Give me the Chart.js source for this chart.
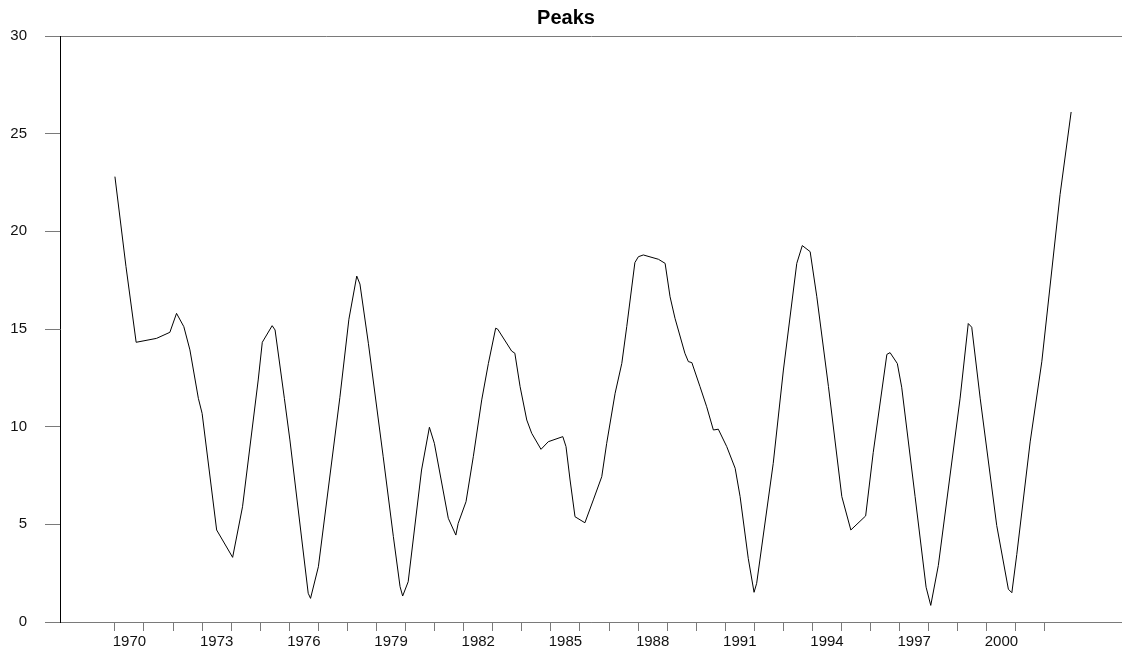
<!DOCTYPE html>
<html>
<head>
<meta charset="utf-8">
<title>Peaks</title>
<script src="https://cdn.jsdelivr.net/npm/chart.js@4"></script>
<style>
  html, body { margin: 0; padding: 0; background: #fff; }
  #wrap { width: 1122px; height: 655px; position: relative; }
</style>
</head>
<body>
<div id="wrap"><canvas id="chart"></canvas></div>
<script>
// decimal years of each vertex of the series
const years = [
  1970.00, 1970.38, 1970.73, 1971.43, 1971.89, 1972.12, 1972.37, 1972.58, 1972.87, 1973.00,
  1973.50, 1974.05, 1974.39, 1974.93, 1975.07, 1975.41, 1975.51, 1975.83, 1976.02, 1976.65,
  1976.73, 1977.00, 1977.74, 1978.05, 1978.32, 1978.43, 1978.72, 1979.23, 1979.58, 1979.81,
  1979.90, 1980.09, 1980.55, 1980.82, 1980.99, 1981.47, 1981.73, 1981.81, 1982.08, 1982.33,
  1982.62, 1982.85, 1983.10, 1983.17, 1983.65, 1983.76, 1983.94, 1984.17, 1984.34, 1984.66,
  1984.91, 1985.41, 1985.52, 1985.66, 1985.83, 1986.17, 1986.46, 1986.75, 1986.92, 1987.21,
  1987.44, 1987.61, 1987.89, 1988.01, 1988.18, 1988.70, 1988.93, 1989.10, 1989.27, 1989.61,
  1989.73, 1989.85, 1990.13, 1990.36, 1990.59, 1990.76, 1991.05, 1991.34, 1991.51, 1991.79,
  1991.99, 1992.08, 1992.65, 1993.00, 1993.46, 1993.65, 1993.92, 1994.15, 1994.55, 1995.01,
  1995.32, 1995.83, 1996.09, 1996.56, 1996.67, 1996.92, 1997.07, 1997.53, 1997.91, 1998.07,
  1998.33, 1999.08, 1999.36, 1999.48, 1999.77, 2000.34, 2000.74, 2000.86, 2001.03, 2001.49,
  2001.89, 2002.52, 2002.90
];

const peaks = [
  22.80, 18.20, 14.32, 14.52, 14.83, 15.80, 15.12, 13.93, 11.45, 10.68,
   4.71,  3.31,  5.90, 12.39, 14.32, 15.17, 14.95, 11.45,  9.32,  1.47,
   1.21,  2.83, 11.50, 15.50, 17.71, 17.30, 14.27,  8.46,  4.37,  1.81,
   1.33,  2.06,  7.78,  9.97,  9.15,  5.31,  4.45,  5.05,  6.16,  8.46,
  11.37, 13.24, 15.04, 14.99, 13.87, 13.76, 12.05, 10.34,  9.66,  8.84,
   9.23,  9.49,  8.98,  7.27,  5.39,  5.08,  6.25,  7.44,  9.15, 11.71,
  13.24, 15.12, 18.40, 18.70, 18.79, 18.57, 18.36, 16.65, 15.55, 13.76,
  13.33, 13.28, 12.05, 11.02,  9.83,  9.87,  8.98,  7.87,  6.42,  3.26,
   1.52,  1.98,  8.12, 12.90, 18.36, 19.27, 18.96, 16.65, 12.05,  6.42,
   4.71,  5.43,  8.67, 13.70, 13.79, 13.23, 12.02,  6.43,  1.78,  0.85,
   2.89, 11.46, 15.28, 15.09, 11.46,  4.94,  1.68,  1.50,  3.46,  9.22,
  13.32, 21.89, 26.11
];

// year ticks on the x axis, and the years that carry a label
const tickYears = Array.from({ length: 33 }, (_, i) => 1970 + i);
const labelYears = [1970, 1973, 1976, 1979, 1982, 1985, 1988, 1991, 1994, 1997, 2000];

const yTicks = [0, 5, 10, 15, 20, 25, 30];

const AXIS_GREY = "#7a7a7a";
const FONT = "'Liberation Sans', Arial, Helvetica, sans-serif";

new Chart(document.getElementById("chart"), {
  type: "line",
  data: {
    datasets: [{
      label: "Peaks",
      data: peaks.map((v, i) => ({ x: years[i], y: v })),
      borderColor: "#000",
      borderWidth: 1,
      pointRadius: 0,
      tension: 0,
      fill: false
    }]
  },
  options: {
    responsive: true,
    maintainAspectRatio: false,
    animation: false,
    layout: { padding: { left: 10, right: 0, top: 0, bottom: 2 } },
    plugins: {
      legend: { display: false },
      tooltip: { enabled: false },
      title: {
        display: true,
        text: "Peaks",
        color: "#000",
        font: { family: FONT, size: 20, weight: "bold" },
        padding: { top: 6, bottom: 6 }
      }
    },
    scales: {
      x: {
        type: "linear",
        min: 1968.11,
        max: 2004.65,
        afterBuildTicks(scale) {
          const t = tickYears.concat(labelYears.map(y => y + 0.5));
          t.sort((a, b) => a - b);
          scale.ticks = t.map(value => ({ value }));
        },
        ticks: {
          autoSkip: false,
          maxRotation: 0,
          minRotation: 0,
          padding: 2,
          color: "#111",
          font: { family: FONT, size: 15 },
          callback: v => labelYears.includes(v - 0.5) ? String(v - 0.5) : ""
        },
        grid: {
          drawOnChartArea: false,
          tickLength: 9,
          tickColor: ctx => Number.isInteger(ctx.tick.value) ? AXIS_GREY : "transparent"
        },
        border: { color: AXIS_GREY, width: 1 }
      },
      y: {
        min: 0,
        max: 30,
        afterBuildTicks(scale) {
          scale.ticks = yTicks.map(value => ({ value }));
        },
        afterFit(scale) {
          scale.width = 50;
        },
        ticks: {
          padding: 18,
          color: "#111",
          font: { family: FONT, size: 15 }
        },
        grid: {
          tickLength: 15,
          tickColor: AXIS_GREY,
          color: ctx => (ctx.tick && (ctx.tick.value === 30 || ctx.tick.value === 0)) ? AXIS_GREY : "transparent"
        },
        border: { color: "#000", width: 1 }
      }
    }
  }
});
</script>
</body>
</html>
